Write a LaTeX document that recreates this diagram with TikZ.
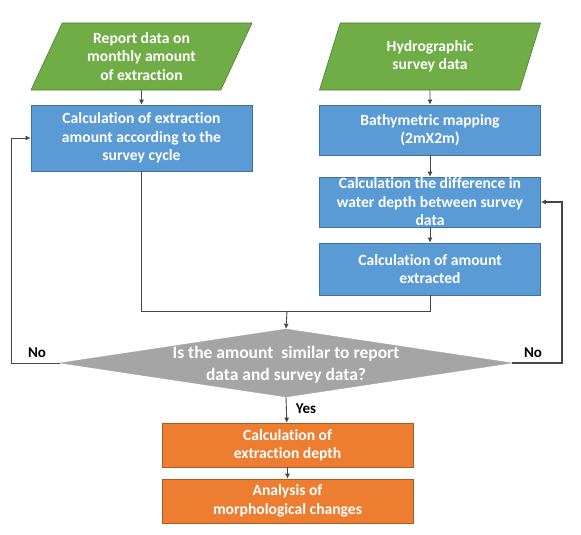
\documentclass[tikz,border=0pt]{standalone}
\usepackage{fontspec}
\setmainfont{Carlito}[Ligatures={NoCommon}]
\usetikzlibrary{shapes.geometric,arrows.meta}
\definecolor{greenbox}{RGB}{112,173,71}
\definecolor{greenline}{RGB}{80,126,50}
\definecolor{bluebox}{RGB}{91,155,213}
\definecolor{blueline}{RGB}{65,113,156}
\definecolor{orangebox}{RGB}{237,125,49}
\definecolor{orangeline}{RGB}{174,90,33}
\definecolor{graybox}{RGB}{165,165,165}
\definecolor{wire}{RGB}{70,70,70}
\begin{document}
\begin{tikzpicture}[x=1pt, y=-1pt,
          base/.style={rectangle, draw=blueline, fill=bluebox, text=white, line width=0.6pt,
            font=\bfseries\fontsize{15.6}{18.5}\selectfont, align=center, inner sep=0pt,
            minimum width=221pt},
          data/.style={base, trapezium, trapezium left angle=57, trapezium right angle=123,
            trapezium stretches body, draw=greenline, fill=greenbox, minimum height=67pt},
          result/.style={base, draw=orangeline, fill=orangebox, minimum width=251pt, minimum height=44pt},
          answer/.style={font=\bfseries\fontsize{15}{17}\selectfont},
          wiring/.style={draw=wire, line width=0.9pt},
          flow/.style={wiring, -{Latex[length=5pt,width=5pt]}}]
          \useasboundingbox (0,0) rectangle (581,535);
          % left column
          \node[data] (report) at (141.5,56.5) {Report data on\\monthly amount\\of extraction};
          \node[base, minimum height=66pt] (cycle) at (141.5,138) {Calculation of extraction\\amount according to the\\survey cycle};
          % right column
          \node[data] (survey) at (430,56.5) {Hydrographic\\survey data};
          \node[base, minimum height=50pt] (bathy) at (430,130) {Bathymetric mapping\\(2mX2m)};
          \node[base, minimum height=50pt] (diff) at (430,202) {Calculation the difference in\\water depth between survey\\data};
          \node[base, minimum height=52pt] (amount) at (430,269) {Calculation of amount\\extracted};
          % decision
          \node[diamond, fill=graybox, draw=graybox, minimum width=452pt, minimum height=68pt, inner sep=0pt,
            label={[text=white, font=\bfseries\fontsize{17.5}{22}\selectfont, align=center, yshift=-2pt]center:Is the amount\ \ similar to report\\data and survey data?}]
            (check) at (286,363) {};
          \node[result] (depth) at (287.5,445) {Calculation of\\extraction depth};
          \node[result] (morph) at (287.5,501) {Analysis of\\morphological changes};
          \coordinate (join) at (287,311);
          \coordinate (backl) at (11,363);
          \coordinate (backr) at (562,363);
          \node[answer] (nol) at (37,353) {No};
          \node[answer] (nor) at (533,353) {No};
          \node[answer] (yes) at (306,409) {Yes};
          % connectors
          \draw[flow] (report) -- (cycle);
          \draw[flow] (survey) -- (bathy);
          \draw[flow] (bathy) -- (diff);
          \draw[flow] (diff) -- (amount);
          \draw[wiring] (cycle.south) -- (cycle.south |- join) -- (amount.south |- join) -- (amount.south);
          \draw[flow] (join) -- (check.north);
          \draw[flow] (check.west) -- (backl) |- (cycle.west);
          \draw[flow, line width=1.4pt] (check.east) -- (backr) |- (diff.east);
          \draw[flow] (check.south) -- (depth);
          \draw[flow] (depth) -- (morph);
        \end{tikzpicture}
\end{document}
